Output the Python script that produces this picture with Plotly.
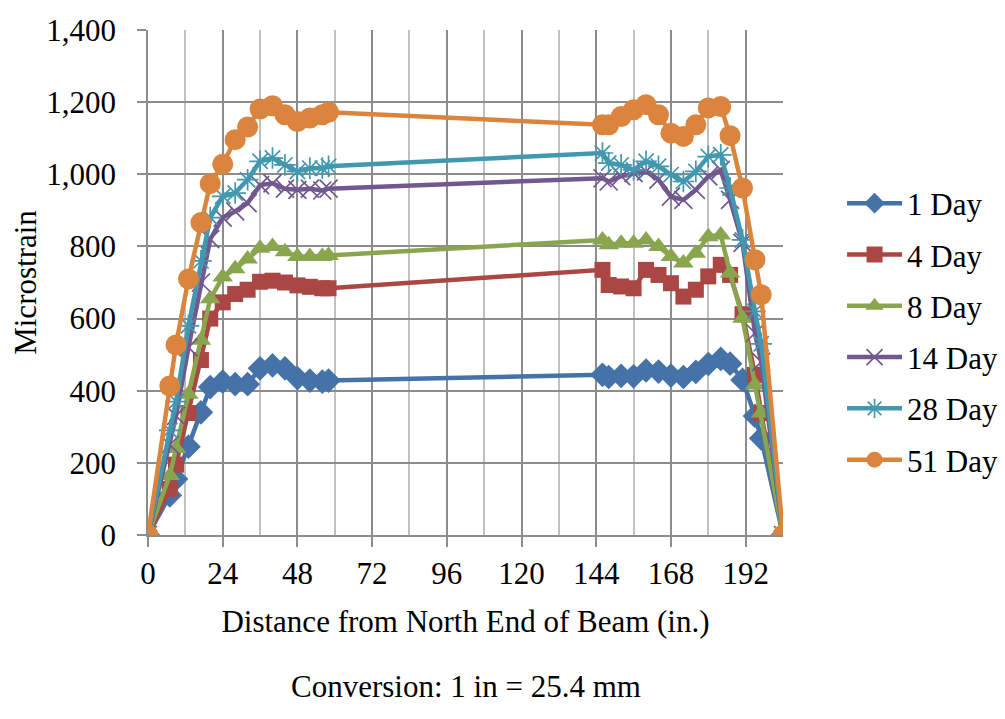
import plotly.graph_objects as go

# Distance from north end of beam (in.)
distance = [0, 7, 9, 13, 17, 20, 24, 28, 32, 36, 40, 44, 48, 52, 56, 58,
            146, 148, 152, 156, 160, 164, 168, 172, 176, 180, 184, 187, 191, 195, 197, 204]

day1 = [0, 110, 155, 245, 340, 410, 425, 418, 418, 462, 470, 462, 435, 428, 425, 428,
        444, 438, 441, 440, 456, 453, 442, 438, 452, 474, 488, 475, 430, 330, 268, 0]
day4 = [0, 128, 195, 338, 485, 600, 645, 668, 680, 702, 705, 700, 692, 688, 684, 684,
        735, 693, 689, 684, 735, 721, 698, 661, 680, 717, 749, 721, 612, 444, 338, 0]
day8 = [0, 165, 240, 390, 540, 655, 715, 738, 765, 795, 800, 785, 772, 772, 772, 775,
        818, 805, 809, 809, 818, 800, 772, 754, 781, 827, 832, 726, 601, 416, 338, 0]
day14 = [0, 250, 330, 520, 700, 820, 880, 897, 920, 970, 975, 960, 957, 960, 955, 960,
         989, 980, 995, 1003, 1008, 985, 938, 929, 957, 994, 1012, 929, 810, 560, 480, 0]
day28 = [0, 290, 370, 580, 760, 880, 939, 948, 985, 1036, 1045, 1026, 1008, 1017, 1017, 1022,
         1059, 1031, 1026, 1012, 1036, 1022, 999, 980, 1008, 1049, 1054, 962, 818, 620, 530, 0]
day51 = [0, 413, 527, 710, 866, 974, 1028, 1096, 1131, 1181, 1190, 1165, 1146, 1156, 1165, 1172,
         1137, 1137, 1160, 1179, 1193, 1165, 1114, 1105, 1137, 1184, 1188, 1107, 962, 763, 666, 0]

series_names = ["1 Day", "4 Day", "8 Day", "14 Day", "28 Day", "51 Day"]
series_values = [day1, day4, day8, day14, day28, day51]
colors = ["#4572A7", "#AA4643", "#89A54E", "#71588F", "#4198AF", "#DB843D"]
symbols = ["diamond", "square", "triangle-up", "x-thin-open", "asterisk-open", "circle"]
sizes = [19, 16, 18, 18, 18, 21]

x_ticks = [0, 24, 48, 72, 96, 120, 144, 168, 192]
y_ticks = [0, 200, 400, 600, 800, 1000, 1200, 1400]

FONT = "Liberation Serif, Times New Roman, serif"
FS = 31

fig = go.Figure()
for i, (name, vals) in enumerate(zip(series_names, series_values)):
    open_sym = symbols[i].endswith("open")
    fig.add_trace(go.Scatter(
        x=distance, y=vals, name=name, mode="lines+markers",
        legendgroup=name,
        line=dict(color=colors[i], width=4.5),
        marker=dict(symbol=symbols[i], size=sizes[i], color=colors[i],
                    line=dict(color=colors[i], width=1.7 if open_sym else 0)),
    ))

# page body has an 8px margin: figure is drawn 8px right and down
fig.update_layout(
    width=997, height=711,
    paper_bgcolor="white", plot_bgcolor="white",
    margin=dict(l=140, r=222, t=22, b=184, autoexpand=False),
    font=dict(family=FONT, size=FS, color="black"),
    showlegend=True,
    legend=dict(x=1.093, xanchor="left", y=0.403, yanchor="middle",
                font=dict(family=FONT, size=FS), traceorder="grouped",
                tracegroupgap=8, bgcolor="rgba(0,0,0,0)", itemwidth=55),
    annotations=[dict(text="Conversion: 1 in = 25.4 mm", x=0.5, xref="paper",
                      y=-(686 - 535) / 505, yref="paper", yanchor="middle",
                      showarrow=False, font=dict(family=FONT, size=FS))],
)

fig.update_xaxes(
    range=[0, 204], tickvals=x_ticks, ticktext=[str(v) for v in x_ticks],
    showgrid=True, gridcolor="#8C8C8C", gridwidth=1.6,
    minor=dict(dtick=12, tick0=0, showgrid=True, gridcolor="#C0C0C0", gridwidth=1.6, ticks=""),
    showline=True, linecolor="#8C8C8C", linewidth=1.6,
    ticks="outside", ticklen=10, tickcolor="#8C8C8C", tickwidth=1.6,
    zeroline=False,
    title=dict(text="Distance from North End of Beam (in.)", font=dict(family=FONT, size=FS), standoff=20),
    tickfont=dict(family=FONT, size=FS),
)
fig.update_yaxes(
    range=[0, 1400], tickvals=y_ticks, tickformat=",",
    showgrid=True, gridcolor="#8C8C8C", gridwidth=1.6,
    showline=True, linecolor="#8C8C8C", linewidth=1.6,
    ticks="outside", ticklen=9, tickcolor="#8C8C8C", tickwidth=1.6,
    ticklabelstandoff=15,
    zeroline=False,
    title=dict(text="Microstrain", font=dict(family=FONT, size=FS), standoff=20),
    tickfont=dict(family=FONT, size=FS),
)

fig.write_html("out.html")
